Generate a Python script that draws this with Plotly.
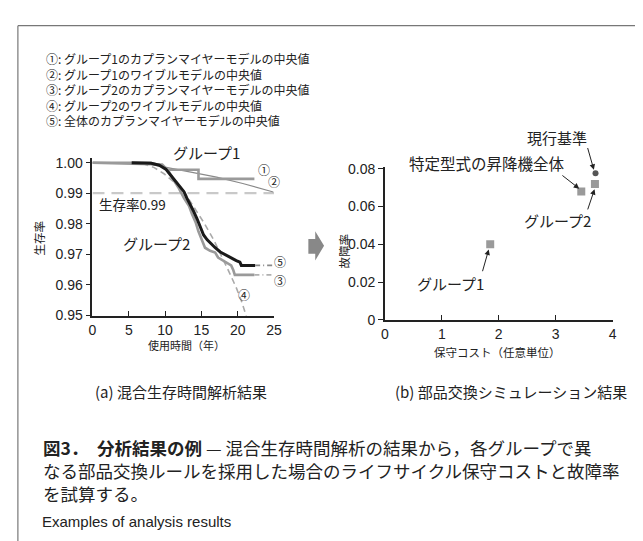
import plotly.graph_objects as go

W, H = 643, 541
FONT = "Liberation Sans, Noto Sans CJK JP, sans-serif"
JP = "Noto Sans CJK JP, Liberation Sans, sans-serif"

# ---------------- (a) survival data ----------------
km_all_t = [0, 5.4, 8.1, 9.2, 10.1, 10.8, 11.5, 12.1, 12.6, 13.0, 13.5, 13.9, 14.4, 14.9,
            15.3, 15.8, 16.2, 16.9, 17.6, 18.5, 19.1, 19.8, 20.3, 20.5, 22.4]
km_all_s = [1.0, 1.0, 0.9998, 0.9992, 0.9979, 0.9958, 0.9937, 0.9918, 0.9905, 0.9884, 0.9863,
            0.9842, 0.9816, 0.9784, 0.9763, 0.9747, 0.9737, 0.9721, 0.9707, 0.9695, 0.9689,
            0.9679, 0.9674, 0.9663, 0.9663]
km_all_tail_t = [22.4, 24.8]
km_all_tail_s = [0.9663, 0.9663]

km_g2_t = [0, 8.0, 9.5, 10.5, 11.2, 11.9, 12.6, 13.3, 13.7, 14.2, 14.6, 15.1, 15.5, 16.2,
           16.9, 17.3, 18.0, 18.7, 19.1, 19.4, 19.6, 22.3]
km_g2_s = [1.0, 1.0, 0.9990, 0.9972, 0.9942, 0.9916, 0.9884, 0.9858, 0.9832, 0.9805, 0.9774,
           0.9742, 0.9721, 0.9711, 0.9705, 0.9689, 0.9679, 0.9668, 0.9663, 0.9647, 0.9632,
           0.9632]
km_g2_tail_t = [22.3, 24.8]
km_g2_tail_s = [0.9632, 0.9632]

wb_g2_t = [0, 5.8, 7.2, 8.5, 9.9, 11.2, 12.6, 13.9, 15.3, 16.7, 18.0, 18.9, 19.8, 20.5, 21.2]
wb_g2_s = [1.0, 1.0, 0.9995, 0.9984, 0.9963, 0.9937, 0.9905, 0.9858, 0.9805, 0.9747, 0.9684,
           0.9637, 0.9590, 0.9547, 0.9495]

km_g1_t = [0, 9.6, 10.3, 14.6, 14.6, 22.3]
km_g1_s = [1.0, 0.9994, 0.9977, 0.9977, 0.9947, 0.9947]

wb_g1_t = [0, 5.0, 7.5, 9.4, 12.6, 17.1, 20.7, 24.9]
wb_g1_s = [1.0, 1.0, 0.9997, 0.9988, 0.9974, 0.9953, 0.9932, 0.9904]

ref_t = [0, 25]
ref_s = [0.99, 0.99]

# ---------------- (b) simulation data ----------------
sim_names = ["グループ1", "特定型式の昇降機全体", "グループ2"]
sim_cost = [1.85, 3.45, 3.69]
sim_fail = [0.040, 0.068, 0.072]
cur_cost = [3.70]
cur_fail = [0.0777]

# ---------------- layout geometry (pixels) ----------------
L_X = (82, 267); L_Y = (148, 310)
L_XR = [0, 25]; L_YR = [0.9497, 1.0015]
R_X = (380, 612); R_Y = (157, 314)
R_XR = [0, 4]; R_YR = [0, 0.081]

def to_px(x, y, XP, YP, XR, YR):
    px = XP[0] + (x - XR[0]) / (XR[1] - XR[0]) * (XP[1] - XP[0])
    py = YP[1] - (y - YR[0]) / (YR[1] - YR[0]) * (YP[1] - YP[0])
    return px, py

def left_px(x, y):
    return to_px(x, y, L_X, L_Y, L_XR, L_YR)

def right_px(x, y):
    return to_px(x, y, R_X, R_Y, R_XR, R_YR)

fig = go.Figure()

def line(t, s, color, width, dash="solid", ax="x", ay="y"):
    fig.add_trace(go.Scatter(x=t, y=s, mode="lines", xaxis=ax, yaxis=ay,
                             line=dict(color=color, width=width, dash=dash),
                             showlegend=False, hoverinfo="skip"))

line(ref_t, ref_s, "#c9c9c9", 2.2, dash="12px,7px")
line(wb_g1_t, wb_g1_s, "#8a8a8a", 1.2)
line(km_g1_t, km_g1_s, "#9a9a9a", 2.6)
line(wb_g2_t, wb_g2_s, "#aaaaaa", 1.6, dash="6px,4px")
line(km_g2_t, km_g2_s, "#9a9a9a", 2.6)
line(km_g2_tail_t, km_g2_tail_s, "#b0b0b0", 1.6, dash="5px,3px,1px,3px")
line(km_all_t[1:], km_all_s[1:], "#1a1a1a", 3.0)
line(km_all_tail_t, km_all_tail_s, "#8a8a8a", 1.6, dash="5px,3px,1px,3px")

fig.add_trace(go.Scatter(x=sim_cost, y=sim_fail, mode="markers", xaxis="x2", yaxis="y2",
                         marker=dict(symbol="square", size=8, color="#9a9a9a"),
                         showlegend=False, hoverinfo="skip"))
fig.add_trace(go.Scatter(x=cur_cost, y=cur_fail, mode="markers", xaxis="x2", yaxis="y2",
                         marker=dict(symbol="circle", size=6, color="#555555"),
                         showlegend=False, hoverinfo="skip"))

def dom_x(p):
    return [p[0] / W, p[1] / W]

def dom_y(p):
    return [1 - p[1] / H, 1 - p[0] / H]

axis_common = dict(showline=True, linecolor="#222", linewidth=1.8, showgrid=False,
                   zeroline=False, ticklen=5, tickwidth=1.2, tickcolor="#222",
                   tickfont=dict(size=14, family=FONT, color="#222"))

fig.update_layout(
    width=W, height=H, margin=dict(l=0, r=0, t=0, b=0),
    paper_bgcolor="white", plot_bgcolor="white",
    font=dict(family=FONT, color="#222"),
    xaxis=dict(domain=dom_x(L_X), range=L_XR, tickvals=[0, 5, 10, 15, 20, 25],
               ticks="inside", anchor="y", **axis_common),
    yaxis=dict(domain=dom_y(L_Y), range=L_YR,
               tickvals=[0.95, 0.96, 0.97, 0.98, 0.99, 1.00],
               ticktext=["0.95", "0.96", "0.97", "0.98", "0.99", "1.00"],
               ticks="outside", anchor="x", **axis_common),
    xaxis2=dict(domain=dom_x(R_X), range=R_XR, tickvals=[0, 1, 2, 3, 4],
                ticks="inside", anchor="y2", **axis_common),
    yaxis2=dict(domain=dom_y(R_Y), range=R_YR,
                tickvals=[0, 0.02, 0.04, 0.06, 0.08],
                ticktext=["0", "0.02", "0.04", "0.06", "0.08"],
                ticks="outside", anchor="x2", **axis_common),
)

ann = []

def ptext(text, px, py, size, xanchor="center", yanchor="middle", angle=0, color="#222",
          family=JP, align="center"):
    ann.append(dict(text=text, x=px / W, y=1 - py / H, xref="paper", yref="paper",
                    xanchor=xanchor, yanchor=yanchor, showarrow=False, textangle=angle,
                    align=align, font=dict(size=size, color=color, family=family)))

legend_lines = [
    "①: グループ1のカプランマイヤーモデルの中央値",
    "②: グループ1のワイブルモデルの中央値",
    "③: グループ2のカプランマイヤーモデルの中央値",
    "④: グループ2のワイブルモデルの中央値",
    "⑤: 全体のカプランマイヤーモデルの中央値",
]
ptext("<br>".join(legend_lines), 33, 35, 12, xanchor="left", yanchor="top", align="left")

for lab, x, y, size in [("グループ1", 15.7, 1.00325, 15), ("グループ2", 8.85, 0.9734, 15),
                        ("生存率0.99", 5.5, 0.9866, 13.5),
                        ("①", 23.6, 0.9977, 12), ("②", 25.0, 0.9937, 12),
                        ("⑤", 25.8, 0.9676, 12), ("③", 25.8, 0.9614, 12),
                        ("④", 20.8, 0.9566, 12)]:
    px, py = left_px(x, y)
    ptext(lab, px, py, size)

ptext("使用時間（年）", 178, 340, 11)
ptext("生存率", 28, 230, 11.5, angle=-90)
ptext("保守コスト（任意単位）", 495, 347, 11.5)
ptext("故障率", 338, 243, 11.5, angle=-90)

for lab, x, y, size in [("グループ1", 1.148, 0.0193, 15), ("グループ2", 3.03, 0.0528, 15),
                        ("特定型式の昇降機全体", 1.79, 0.0829, 15.5), ("現行基準", 3.03, 0.0965, 15)]:
    px, py = right_px(x, y)
    ptext(lab, px, py, size)

for (tx, ty, hx, hy) in [(1.71, 0.0253, 1.824, 0.0373), (3.557, 0.058, 3.683, 0.0692),
                         (3.098, 0.0769, 3.414, 0.0695), (3.557, 0.0915, 3.671, 0.0795)]:
    hpx, hpy = right_px(hx, hy)
    tpx, tpy = right_px(tx, ty)
    ann.append(dict(text="", x=hpx / W, y=1 - hpy / H, xref="paper", yref="paper",
                    ax=tpx - hpx, ay=tpy - hpy, showarrow=True, arrowhead=2, arrowsize=1.1,
                    arrowwidth=1, arrowcolor="#222", standoff=0, startstandoff=0))

ptext("(a) 混合生存時間解析結果", 172, 388, 15)
ptext("(b) 部品交換シミュレーション結果", 508, 388, 15)

caption_lines = [
    "<b>図3．　分析結果の例</b> — 混合生存時間解析の結果から，各グループで異",
    "なる部品交換ルールを採用した場合のライフサイクル保守コストと故障率",
    "を試算する。",
]
for i, t in enumerate(caption_lines):
    ptext(t, 30, 445 + i * 23.5, 17.5, xanchor="left")
ptext("Examples of analysis results", 29, 521, 15, xanchor="left", family=FONT)

fig.update_layout(annotations=ann)

def pth(points):
    s = ""
    for i, (px, py) in enumerate(points):
        s += ("M" if i == 0 else "L") + f"{px / W:.5f},{1 - py / H:.5f} "
    return s + "Z"

shapes = [
    dict(type="line", xref="paper", yref="paper", x0=6 / W, x1=6 / W, y0=0, y1=1 - 12 / H,
         line=dict(color="#777", width=1.2)),
    dict(type="line", xref="paper", yref="paper", x0=6 / W, x1=1, y0=1 - 12 / H, y1=1 - 12 / H,
         line=dict(color="#777", width=1.2)),
    dict(type="path", xref="paper", yref="paper",
         path=pth([(302, 231), (309, 231), (309, 223), (318, 238), (309, 253), (309, 246), (302, 246)]),
         fillcolor="#888", line=dict(width=0)),
]
fig.update_layout(shapes=shapes)

fig.write_html("out.html")
